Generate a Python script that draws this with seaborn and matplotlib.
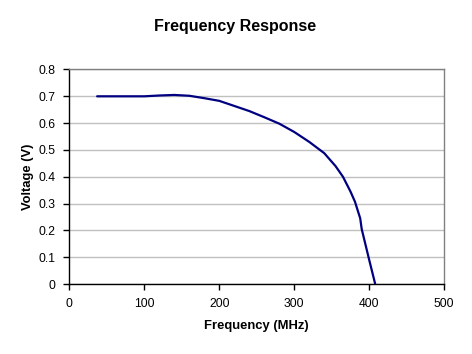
import matplotlib
matplotlib.use("Agg")
import matplotlib.pyplot as plt
import seaborn as sns
import pandas as pd

freq_mhz = [37, 60, 80, 100, 120, 140, 160, 180, 200, 220, 240, 260, 280, 300,
            320, 340, 355, 365, 375, 381, 388, 390, 400, 408]
voltage = [0.70, 0.70, 0.70, 0.70, 0.703, 0.705, 0.702, 0.693, 0.683, 0.664, 0.645,
           0.622, 0.598, 0.567, 0.53, 0.488, 0.44, 0.40, 0.345, 0.307, 0.245, 0.205,
           0.09, 0.0]
x_ticks = [0, 100, 200, 300, 400, 500]
y_ticks = [0, 0.1, 0.2, 0.3, 0.4, 0.5, 0.6, 0.7, 0.8]
y_tick_labels = ["0", "0.1", "0.2", "0.3", "0.4", "0.5", "0.6", "0.7", "0.8"]

sns.set_style("white")
plt.rcParams["font.family"] = ["Liberation Sans", "DejaVu Sans"]
plt.rcParams["text.color"] = "black"
plt.rcParams["axes.labelcolor"] = "black"
plt.rcParams["xtick.color"] = "black"
plt.rcParams["ytick.color"] = "black"

df = pd.DataFrame({"Frequency (MHz)": freq_mhz, "Voltage (V)": voltage})

fig = plt.figure(figsize=(4.72, 3.54), dpi=100)
ax = fig.add_axes([0.147, 0.1977, 0.794, 0.606])
sns.lineplot(data=df, x="Frequency (MHz)", y="Voltage (V)", ax=ax,
             color="#000080", linewidth=1.6, zorder=3)

ax.set_xlim(0, 500)
ax.set_ylim(0, 0.8)
ax.set_xticks(x_ticks)
ax.set_xticklabels([str(t) for t in x_ticks])
ax.set_yticks(y_ticks)
ax.set_yticklabels(y_tick_labels)
ax.yaxis.grid(True, color="#c0c0c0", linewidth=1.0)
ax.xaxis.grid(False)
ax.tick_params(axis="both", direction="out", length=4, width=1, color="black",
               labelsize=8.7, left=True, bottom=True)
ax.tick_params(axis="y", pad=6)
ax.tick_params(axis="x", pad=6)
for side in ["left", "bottom"]:
    ax.spines[side].set_color("black")
    ax.spines[side].set_linewidth(1.0)
for side in ["top", "right"]:
    ax.spines[side].set_color("#808080")
    ax.spines[side].set_linewidth(1.0)

ax.set_xlabel("Frequency (MHz)", fontsize=9.4, fontweight="bold", labelpad=7)
ax.set_ylabel("Voltage (V)", fontsize=9.4, fontweight="bold", labelpad=3)
fig.text(235 / 472, 1 - 27 / 354, "Frequency Response",
         fontsize=11.5, fontweight="bold", ha="center", va="center")

fig.savefig("out.png", dpi=100)
